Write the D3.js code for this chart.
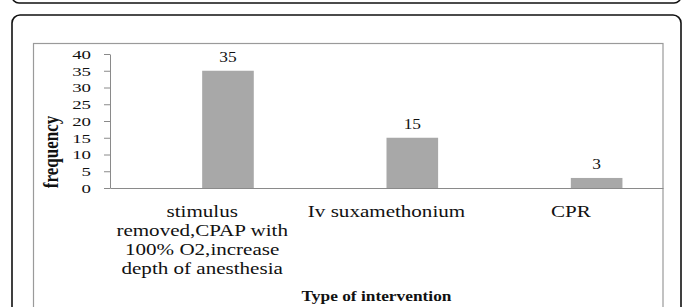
<!DOCTYPE html>
<html>
<head>
<meta charset="utf-8">
<script src="https://cdn.jsdelivr.net/npm/d3@7"></script>
<style>
  body { margin:0; background:#fff; }
  svg { display:block; }
  text { font-family:"Liberation Serif","Times New Roman",serif; fill:#111; }
</style>
</head>
<body>
<div class="top"></div>
<script>
// data
const categories = ['stimulus removed', 'Iv suxamethonium', 'CPR'];
const categoryLines = [
  ['stimulus', 'removed,CPAP with', '100% O2,increase', 'depth of anesthesia'],
  ['Iv suxamethonium'],
  ['CPR']
];
const series = ['', 'frequency'];      // first series is empty in the original sheet
const frequency = [35, 15, 3];
const yTicks = [0, 5, 10, 15, 20, 25, 30, 35, 40];

const W = 683, H = 307;
const plot = {left:110, right:663, top:54, bottom:188};
const SX = 1.24;   // text in the picture is stretched sideways

const x = d3.scaleBand().domain(categories)
  .range([plot.left, plot.right]).paddingInner(0.44).paddingOuter(0.22);
const x1 = d3.scaleBand().domain(series).range([0, x.bandwidth()]);
const y = d3.scaleLinear().domain([0, 40]).range([plot.bottom, plot.top]);

const svg = d3.select('.top').append('svg').attr('width', W).attr('height', H);

// outer page boxes
svg.append('rect')
  .attr('x', 12).attr('y', -40).attr('width', 669).attr('height', 43).attr('rx', 7)
  .attr('fill', 'none').attr('stroke', '#111').attr('stroke-width', 1.6);
svg.append('rect')
  .attr('x', 12).attr('y', 15).attr('width', 669).attr('height', 400).attr('rx', 8)
  .attr('fill', 'none').attr('stroke', '#111').attr('stroke-width', 1.6);

// chart area frame
svg.append('rect')
  .attr('x', 33.5).attr('y', 43.5).attr('width', 629.5).attr('height', 300)
  .attr('fill', 'none').attr('stroke', '#9a9a9a').attr('stroke-width', 1.2);

// bars
svg.append('g').selectAll('rect').data(frequency)
  .join('rect')
    .attr('x', (d, i) => x(categories[i]) + x1('frequency'))
    .attr('y', d => y(d))
    .attr('width', x1.bandwidth())
    .attr('height', d => y(0) - y(d))
    .attr('fill', '#a8a8a8');

// value labels
svg.append('g').selectAll('text').data(frequency)
  .join('text')
    .attr('transform', (d, i) =>
      `translate(${x(categories[i]) + x1('frequency') + x1.bandwidth() / 2},${y(d) - 9}) scale(${SX},1)`)
    .attr('text-anchor', 'middle')
    .style('font-size', '14px')
    .text(d => d);

// y axis
svg.append('g')
  .attr('transform', `translate(${plot.left},0)`)
  .call(d3.axisLeft(y).tickValues(yTicks).tickSize(6).tickSizeOuter(0))
  .call(g => {
    g.select('.domain').attr('stroke', '#8a8a8a');
    g.selectAll('.tick line').attr('stroke', '#8a8a8a');
    g.selectAll('.tick text')
      .attr('x', 0).attr('dy', null).attr('y', 4.3)
      .attr('transform', 'translate(-19,0) scale(1.45,1)')
      .style('font-size', '13px').style('font-family', '"Liberation Serif",serif')
      .attr('fill', '#111');
  });

// x axis
svg.append('g')
  .attr('transform', `translate(0,${plot.bottom})`)
  .call(d3.axisBottom(x).tickSize(0).tickSizeOuter(0))
  .call(g => {
    g.select('.domain').attr('stroke', '#8a8a8a');
    g.selectAll('.tick text').remove();
    g.selectAll('.tick').each(function(c, i) {
      const t = d3.select(this).append('text')
        .attr('text-anchor', 'middle')
        .attr('fill', '#111')
        .attr('transform', `translate(0,29) scale(${SX},1)`)
        .style('font-size', '17px').style('font-family', '"Liberation Serif",serif');
      t.selectAll('tspan').data(categoryLines[i])
        .join('tspan').attr('x', 0).attr('dy', (d, j) => j ? 19 : 0).text(d => d);
    });
  });

// axis titles
svg.append('text')
  .attr('transform', `translate(${(plot.left + plot.right) / 2 - 10},301) scale(${SX},1)`)
  .attr('text-anchor', 'middle')
  .style('font-size', '14px').style('font-weight', 'bold')
  .text('Type of intervention');

svg.append('text')
  .attr('transform', `translate(58,152) scale(${SX},1) rotate(-90)`)
  .attr('text-anchor', 'middle')
  .style('font-size', '17px').style('font-weight', 'bold')
  .text('frequency');
</script>
</body>
</html>
